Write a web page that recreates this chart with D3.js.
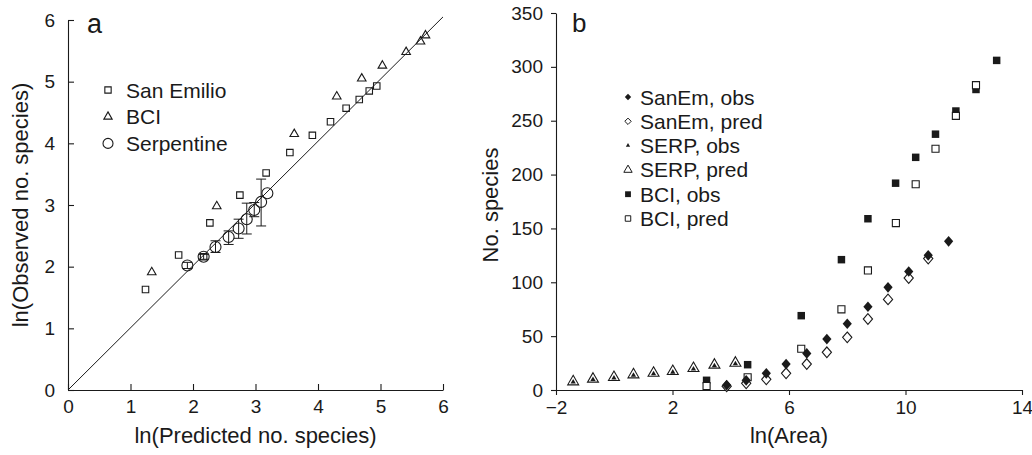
<!DOCTYPE html>
<html><head><meta charset="utf-8">
<script src="https://cdn.jsdelivr.net/npm/d3@7"></script>
<style>
body{margin:0;background:#fff;}
svg{display:block;font-family:"Liberation Sans",Arial,Helvetica,sans-serif;}
text{fill:#1a1a1a;}
</style></head><body>
<svg id="chart" width="1032" height="455"></svg>
<script>
// ---------- Panel a data ----------
const aTicks = [0,1,2,3,4,5,6];
const sanEmilioPred = [1.24,1.77,2.17,2.27,2.75,3.17,3.55,3.91,4.20,4.45,4.66,4.82,4.94];
const sanEmilioObs  = [1.63,2.19,2.16,2.71,3.16,3.52,3.85,4.13,4.35,4.57,4.71,4.85,4.93];
const bciPredA = [1.34,2.38,3.62,4.30,4.70,5.03,5.41,5.64,5.72];
const bciObsA  = [1.91,2.98,4.15,4.76,5.05,5.26,5.48,5.65,5.75];
const serpPred = [1.91,2.17,2.36,2.57,2.73,2.86,2.98,3.09,3.19];
const serpObs  = [2.02,2.16,2.32,2.48,2.62,2.77,2.92,3.05,3.19];
const serpLo   = [1.97,2.12,2.23,2.36,2.46,2.53,2.81,2.66,3.19];
const serpHi   = [2.07,2.20,2.42,2.58,2.77,3.03,3.04,3.42,3.19];
const aLegend = ["San Emilio","BCI","Serpentine"];

// ---------- Panel b data ----------
const bXTicks = [-2,2,6,10,14];
const bYTicks = [0,50,100,150,200,250,300,350];
const sanEmObsX = [3.86,4.53,5.22,5.90,6.61,7.30,8.00,8.71,9.40,10.11,10.78,11.48];
const sanEmObsY = [4.6,9.0,15.5,24.1,34,47.3,61.5,77.3,95.3,110,125,138];
const sanEmPredX = [3.86,4.53,5.22,5.90,6.61,7.30,8.00,8.71,9.40,10.11,10.78];
const sanEmPredY = [3.5,6.2,9.9,15.5,24.1,35,48.9,65.9,84.1,104,122];
const serpX = [-1.41,-0.73,-0.01,0.66,1.35,2.01,2.72,3.44,4.16];
const serpObsY = [7.5,9.8,11.2,13.6,15.0,16.6,19.4,22.5,24.4];
const serpPredY = [6.8,9.3,10.8,13.3,14.8,16.4,19.2,22.3,24.1];
const bciX = [3.17,4.58,6.42,7.80,8.71,9.66,10.35,11.03,11.73,12.42,13.13];
const bciObsY = [9.0,23.5,69,121,159,192,216,237.5,259,279,306];
const bciPredX = [3.17,4.58,6.42,7.80,8.71,9.67,10.35,11.03,11.73,12.42];
const bciPredY = [3.7,11.8,38.3,74.9,111,155,191,224,254.5,283];
const bLegend = ["SanEm, obs","SanEm, pred","SERP, obs","SERP, pred","BCI, obs","BCI, pred"];

const svg = d3.select("#chart");
const ink = "#1a1a1a";

// ================= Panel a =================
const ax = d3.scaleLinear().domain([0,6]).range([68,443]);
const ay = d3.scaleLinear().domain([0,6]).range([390,20]);
const ga = svg.append("g");

const xAxA = ga.append("g").attr("transform","translate(0,390)")
  .call(d3.axisBottom(ax).tickValues(aTicks).tickSizeInner(-6).tickSizeOuter(0).tickPadding(10).tickFormat(d3.format("d")));
const yAxA = ga.append("g").attr("transform","translate(68,0)")
  .call(d3.axisLeft(ay).tickValues(aTicks).tickSizeInner(-6).tickSizeOuter(0).tickPadding(13).tickFormat(d3.format("d")));
[xAxA,yAxA].forEach(g=>{
  g.selectAll("path,line").attr("stroke",ink).attr("stroke-width",1.1);
  g.selectAll("text").attr("font-size",19).attr("font-family","Liberation Sans, Arial, sans-serif").attr("fill",ink);
});

// 1:1 line
ga.append("line").attr("x1",ax(0)).attr("y1",ay(0)).attr("x2",ax(6)).attr("y2",ay(6.05))
  .attr("stroke",ink).attr("stroke-width",1);

// Serpentine error bars
serpPred.forEach((p,i)=>{
  if (serpHi[i]-serpLo[i] < 0.01) return;
  const x = ax(p);
  ga.append("line").attr("x1",x).attr("x2",x).attr("y1",ay(serpLo[i])).attr("y2",ay(serpHi[i])).attr("stroke",ink).attr("stroke-width",1);
  [serpLo[i],serpHi[i]].forEach(v=>{
    ga.append("line").attr("x1",x-5).attr("x2",x+5).attr("y1",ay(v)).attr("y2",ay(v)).attr("stroke",ink).attr("stroke-width",1);
  });
});
// Serpentine circles
ga.selectAll(".serp").data(serpPred).join("circle")
  .attr("cx",d=>ax(d)).attr("cy",(d,i)=>ay(serpObs[i])).attr("r",5.5)
  .attr("fill","none").attr("stroke",ink).attr("stroke-width",1.1);
// San Emilio squares
ga.selectAll(".se").data(sanEmilioPred).join("path")
  .attr("d",d3.symbol(d3.symbolSquare,42))
  .attr("transform",(d,i)=>`translate(${ax(d)},${ay(sanEmilioObs[i])})`)
  .attr("fill","none").attr("stroke",ink).attr("stroke-width",1.1);
// BCI triangles
ga.selectAll(".bci").data(bciPredA).join("path")
  .attr("d",d3.symbol(d3.symbolTriangle,32))
  .attr("transform",(d,i)=>`translate(${ax(d)},${ay(bciObsA[i])})`)
  .attr("fill","none").attr("stroke",ink).attr("stroke-width",1.1);

// legend a
const aSyms = [d3.symbol(d3.symbolSquare,40)(), d3.symbol(d3.symbolTriangle,30)(), null];
aLegend.forEach((t,i)=>{
  const y = 90 + i*26.7;
  if (aSyms[i]) ga.append("path").attr("d",aSyms[i]).attr("transform",`translate(108,${y})`).attr("fill","none").attr("stroke",ink).attr("stroke-width",1.1);
  else ga.append("circle").attr("cx",108).attr("cy",y).attr("r",5).attr("fill","none").attr("stroke",ink).attr("stroke-width",1.1);
  ga.append("text").attr("x",126).attr("y",y+7.5).attr("font-size",21).text(t);
});
ga.append("text").attr("x",87).attr("y",33).attr("font-size",27).text("a");
ga.append("text").attr("x",ax(3)).attr("y",443).attr("text-anchor","middle").attr("font-size",22).text("ln(Predicted no. species)");
ga.append("text").attr("transform","translate(28,205) rotate(-90)").attr("text-anchor","middle").attr("font-size",22).text("ln(Observed no. species)");

// ================= Panel b =================
const bx = d3.scaleLinear().domain([-2,14]).range([556,1022]);
const by = d3.scaleLinear().domain([0,350]).range([390,13]);
const gb = svg.append("g");
const xAxB = gb.append("g").attr("transform","translate(0,390)")
  .call(d3.axisBottom(bx).tickValues(bXTicks).tickSizeInner(5).tickSizeOuter(0).tickPadding(6).tickFormat(d=>d<0?"\u2212"+Math.abs(d):d));
const yAxB = gb.append("g").attr("transform","translate(556,0)")
  .call(d3.axisLeft(by).tickValues(bYTicks).tickSizeInner(5).tickSizeOuter(0).tickPadding(8).tickFormat(d3.format("d")));
[xAxB,yAxB].forEach(g=>{
  g.selectAll("path,line").attr("stroke",ink).attr("stroke-width",1.1);
  g.selectAll("text").attr("font-size",19).attr("font-family","Liberation Sans, Arial, sans-serif").attr("fill",ink);
});

const triBig = d3.symbol(d3.symbolTriangle,52);
const triSmall = d3.symbol(d3.symbolTriangle,12);
// SERP pred (open) and obs (small filled)
gb.selectAll(".sp").data(serpX).join("path").attr("d",triBig)
  .attr("transform",(d,i)=>`translate(${bx(d)},${by(serpPredY[i])-1})`)
  .attr("fill","#fff").attr("stroke",ink).attr("stroke-width",1.1);
gb.selectAll(".so").data(serpX).join("path").attr("d",triSmall)
  .attr("transform",(d,i)=>`translate(${bx(d)},${by(serpObsY[i])})`)
  .attr("fill",ink);
// BCI obs (filled squares), pred (open)
gb.selectAll(".bo").data(bciX).join("path").attr("d",d3.symbol(d3.symbolSquare,56))
  .attr("transform",(d,i)=>`translate(${bx(d)},${by(bciObsY[i])})`).attr("fill",ink);
gb.selectAll(".bp").data(bciPredX).join("path").attr("d",d3.symbol(d3.symbolSquare,50))
  .attr("transform",(d,i)=>`translate(${bx(d)},${by(bciPredY[i])})`).attr("fill","#fff").attr("stroke",ink).attr("stroke-width",1.1);
// SanEm pred (open diamonds), obs (filled)
const dia = d3.symbol(d3.symbolDiamond2,60);
gb.selectAll(".dp").data(sanEmPredX).join("path").attr("d",dia)
  .attr("transform",(d,i)=>`translate(${bx(d)},${by(sanEmPredY[i])}) scale(0.95,1.1)`).attr("fill","#fff").attr("stroke",ink).attr("stroke-width",1.1);
gb.selectAll(".do").data(sanEmObsX).join("path").attr("d",dia)
  .attr("transform",(d,i)=>`translate(${bx(d)},${by(sanEmObsY[i])}) scale(0.95,1.1)`).attr("fill",ink);

// legend b
const lx = 628, ly0 = 97, ldy = 24.3;
const legSyms = [
  {d:d3.symbol(d3.symbolDiamond2,26)(), fill:ink, stroke:"none"},
  {d:d3.symbol(d3.symbolDiamond2,26)(), fill:"#fff", stroke:ink},
  {d:d3.symbol(d3.symbolTriangle,8)(), fill:ink, stroke:"none"},
  {d:d3.symbol(d3.symbolTriangle,30)(), fill:"#fff", stroke:ink},
  {d:d3.symbol(d3.symbolSquare,34)(), fill:ink, stroke:"none"},
  {d:d3.symbol(d3.symbolSquare,30)(), fill:"#fff", stroke:ink}
];
bLegend.forEach((t,i)=>{
  const y = ly0 + i*ldy;
  gb.append("path").attr("d",legSyms[i].d).attr("transform",`translate(${lx},${y})`)
    .attr("fill",legSyms[i].fill).attr("stroke",legSyms[i].stroke).attr("stroke-width",1);
  gb.append("text").attr("x",640).attr("y",y+7.5).attr("font-size",21).text(t);
});
gb.append("text").attr("x",572).attr("y",32).attr("font-size",26).text("b");
gb.append("text").attr("x",bx(6)).attr("y",443).attr("text-anchor","middle").attr("font-size",22).text("ln(Area)");
gb.append("text").attr("transform","translate(498,205) rotate(-90)").attr("text-anchor","middle").attr("font-size",22).text("No. species");
</script>
</body></html>
